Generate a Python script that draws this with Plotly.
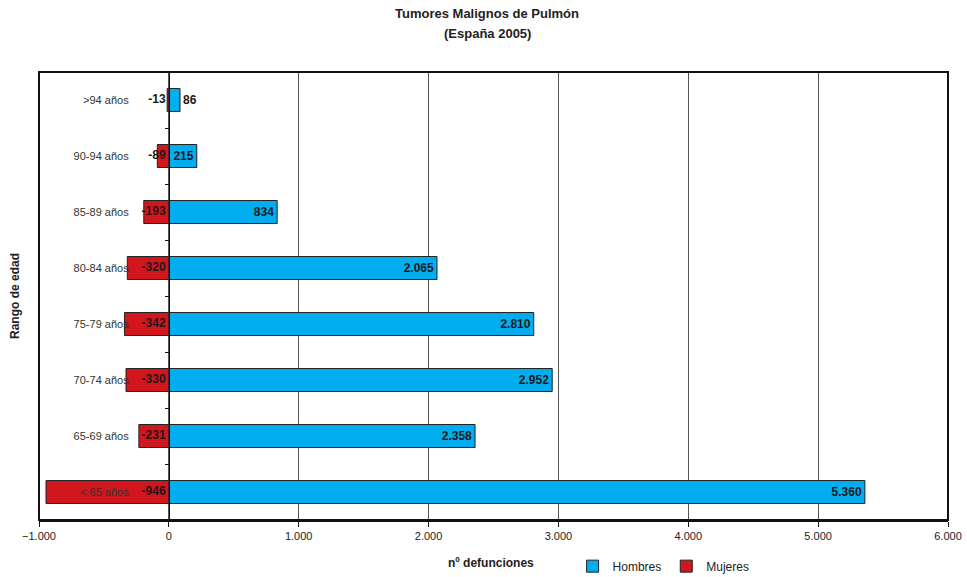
import plotly.graph_objects as go

categories = [">94 años", "90-94 años", "85-89 años", "80-84 años",
              "75-79 años", "70-74 años", "65-69 años", "< 65 años"]
hombres = [86, 215, 834, 2065, 2810, 2952, 2358, 5360]
mujeres = [-13, -89, -193, -320, -342, -330, -231, -946]
x_ticks = [-1000, 0, 1000, 2000, 3000, 4000, 5000, 6000]

FONT = "Liberation Sans, Arial, sans-serif"

fig = go.Figure()

fig.add_trace(go.Bar(
    name="Hombres", y=categories, x=hombres, orientation="h",
    marker=dict(color="#00AEEF", line=dict(color="#222222", width=1)),
    texttemplate="%{x:,}",
    textposition=["outside" if v < 150 else "inside" for v in hombres],
    insidetextanchor="end", constraintext="none", cliponaxis=False,
    textfont=dict(family=FONT, size=12, color="#1a1a1a", weight="bold"),
    width=0.41,
))
fig.add_trace(go.Bar(
    name="Mujeres", y=categories, x=mujeres, orientation="h",
    marker=dict(color="#D2161E", line=dict(color="#222222", width=1)),
    width=0.41,
))
fig.add_trace(go.Scatter(
    y=categories, x=[-25] * len(categories), mode="text",
    text=[str(v) for v in mujeres], textposition="middle left",
    textfont=dict(family=FONT, size=12, color="#1a1a1a", weight="bold"),
    showlegend=False, hoverinfo="skip", cliponaxis=False,
))

fig.update_layout(
    width=967, height=577,
    barmode="relative",
    separators=",.",
    paper_bgcolor="white", plot_bgcolor="white",
    margin=dict(l=39, r=19, t=72, b=57, autoexpand=False),
    font=dict(family=FONT, size=11, color="#222222"),
    showlegend=True,
    legend=dict(orientation="h", x=0.587, y=-0.103, xanchor="left", yanchor="middle",
                font=dict(size=12, color="#222222"), itemwidth=30,
                traceorder="normal", tracegroupgap=0, bgcolor="rgba(0,0,0,0)"),
    annotations=[
        dict(text="<b>Tumores Malignos de Pulmón</b>", xref="paper", yref="paper",
             x=(487 - 39) / 909, y=1 + 58 / 448, showarrow=False,
             font=dict(size=13, color="#222222"),
             xanchor="center", yanchor="middle"),
        dict(text="<b>(España 2005)</b>", xref="paper", yref="paper",
             x=(487 - 39) / 909, y=1 + 38 / 448, showarrow=False,
             font=dict(size=13, color="#222222"),
             xanchor="center", yanchor="middle"),
        dict(text="<b>Rango de edad</b>", xref="paper", yref="paper",
             x=-24 / 909, y=0.5, showarrow=False, textangle=-90,
             font=dict(size=12, color="#222222"), xanchor="center", yanchor="middle"),
        dict(text="<b>nº defunciones</b>", xref="paper", yref="paper",
             x=(491 - 39) / 909, y=-43 / 448, showarrow=False,
             font=dict(size=12, color="#222222"), xanchor="center", yanchor="middle"),
    ],
    shapes=[
        dict(type="rect", xref="paper", yref="paper", x0=0, x1=1, y0=0, y1=1,
             line=dict(color="#111111", width=2), layer="above"),
    ],
)

fig.update_xaxes(
    range=[-1000, 6000], tickvals=x_ticks, tickformat=",",
    showgrid=True, gridcolor="#555555", gridwidth=1,
    zeroline=False, showline=True, linecolor="#111111", linewidth=2,
    ticks="outside", ticklen=5, tickcolor="#111111",
    tickfont=dict(size=11, color="#222222"),
    ticklabeloverflow="allow",
    automargin=False,
)
fig.update_yaxes(
    type="category", autorange="reversed",
    anchor="free", position=1 / 7,
    showline=True, linecolor="#111111", linewidth=1,
    ticks="outside", ticklen=4, tickson="boundaries", tickcolor="#111111",
    ticklabelstandoff=38,
    tickfont=dict(size=11, color="#333333"),
    showgrid=False, zeroline=False, automargin=False,
)

fig.write_html("out.html",
               config={"displayModeBar": False},
               post_script="document.body.style.margin='0px';document.body.style.overflow='hidden';")
